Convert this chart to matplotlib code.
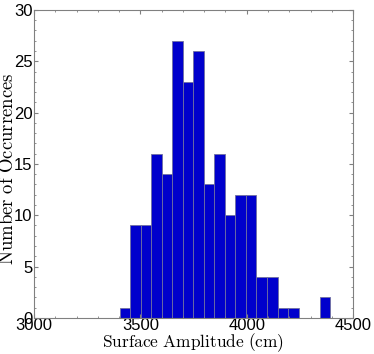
import matplotlib
matplotlib.use("Agg")
import matplotlib.pyplot as plt
import numpy as np
from matplotlib.ticker import MultipleLocator

# histogram: 20 bins between data min and max
lo, hi = 3403, 4392
counts = [1, 9, 9, 16, 14, 27, 23, 26, 13, 16, 10, 12, 12, 4, 4, 1, 1, 0, 0, 2]

edges = np.linspace(lo, hi, len(counts) + 1)
width = edges[1] - edges[0]

plt.rcParams['mathtext.fontset'] = 'cm'
plt.rcParams['font.family'] = ['Liberation Sans', 'DejaVu Sans']

fig = plt.figure(figsize=(3.74, 3.54), dpi=100)
ax = fig.add_axes([0.091, 0.102, 0.853, 0.870])

ax.bar(edges[:-1], counts, width=width, align='edge', color='#0000cc',
       edgecolor='#7070a0', linewidth=0.6)

ax.set_xlim(3000, 4500)
ax.set_ylim(0, 30)
ax.xaxis.set_major_locator(MultipleLocator(500))
ax.xaxis.set_minor_locator(MultipleLocator(100))
ax.yaxis.set_major_locator(MultipleLocator(5))
ax.yaxis.set_minor_locator(MultipleLocator(1))
ax.tick_params(which='both', direction='in', top=True, right=True,
               color='#808080', labelsize=12)
ax.tick_params(axis='x', pad=0)
ax.tick_params(axis='y', pad=1)
ax.tick_params(which='major', length=3)
ax.tick_params(which='minor', length=1.5)
for s in ax.spines.values():
    s.set_color('#808080')

ax.set_xlabel(r'$\mathrm{Surface\ Amplitude\ (cm)}$', fontsize=12.5, labelpad=-1)
ax.set_ylabel(r'$\mathrm{Number\ of\ Occurrences}$', fontsize=13.5)
ax.yaxis.set_label_coords(-0.052, 0.484)

fig.savefig('out.png', dpi=100)
